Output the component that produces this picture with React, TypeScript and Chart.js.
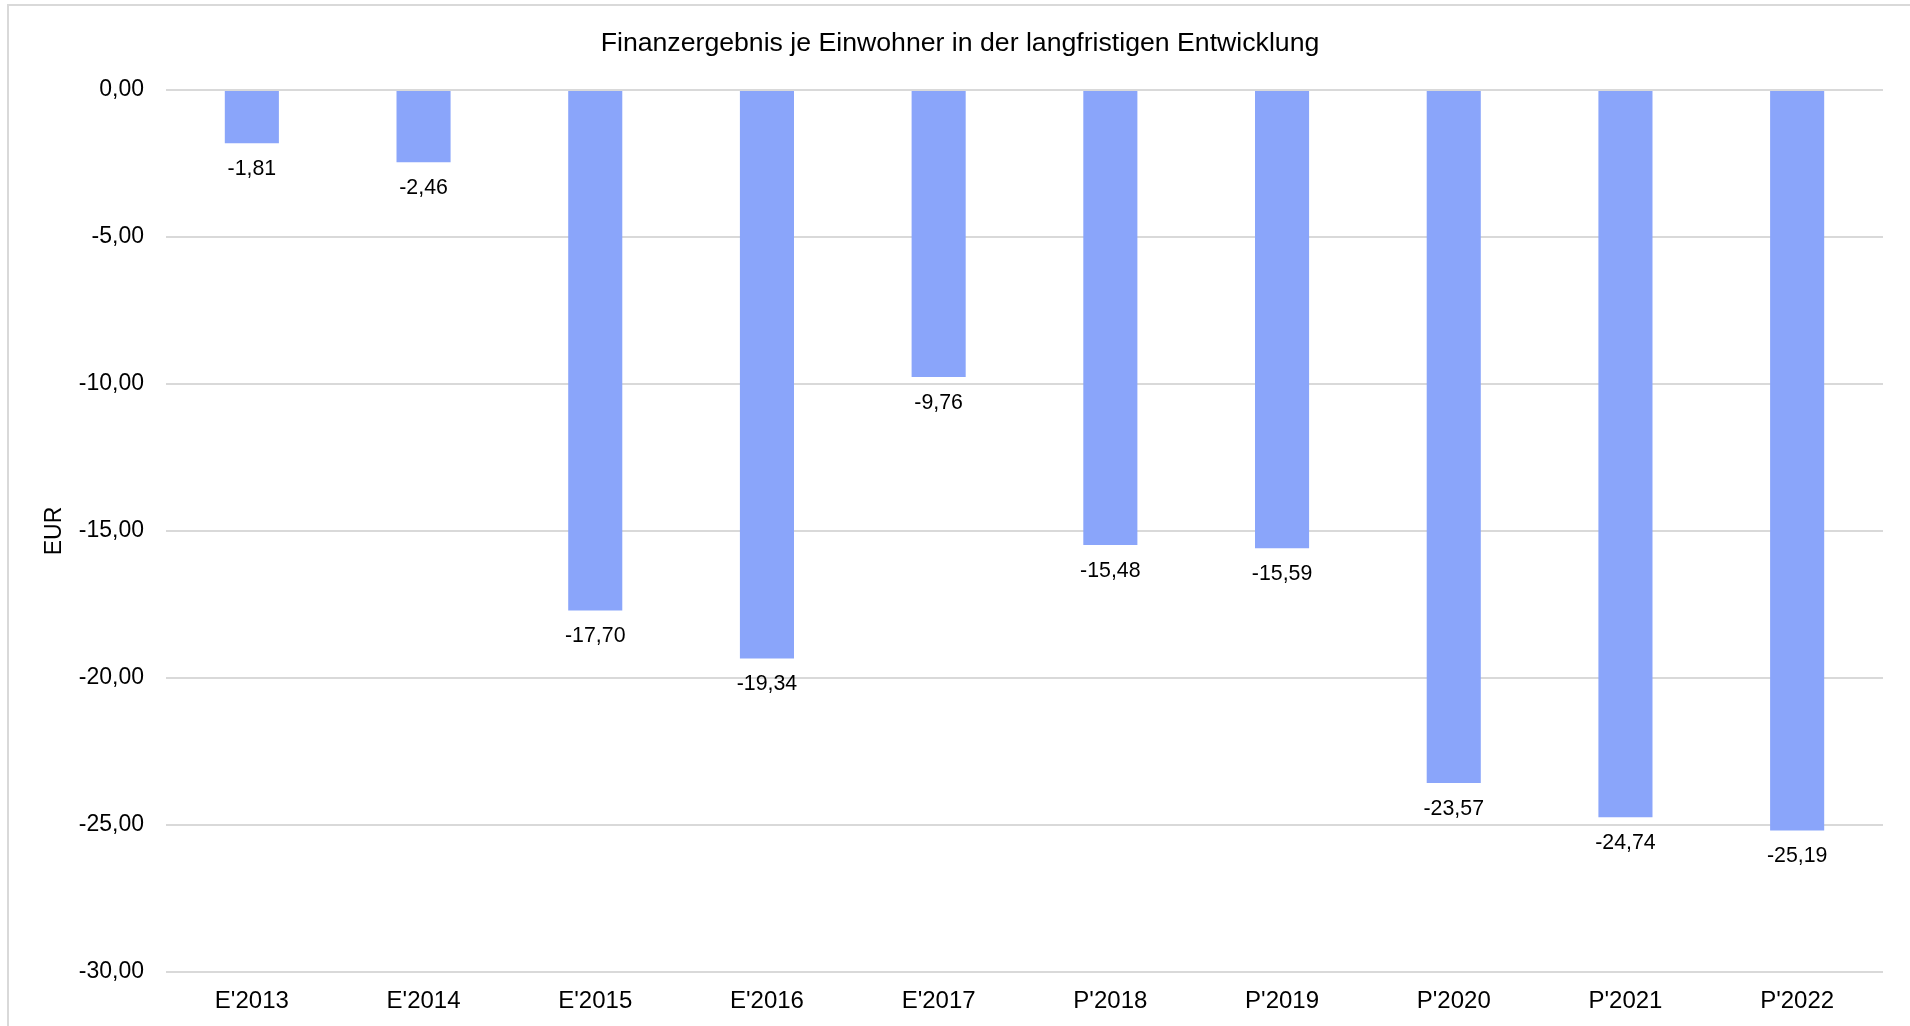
import React, { useEffect, useRef } from "react";
import { Chart, registerables } from "chart.js";

Chart.register(...registerables);

const categories = ["E'2013", "E'2014", "E'2015", "E'2016", "E'2017", "P'2018", "P'2019", "P'2020", "P'2021", "P'2022"];
const values = [-1.81, -2.46, -17.7, -19.34, -9.76, -15.48, -15.59, -23.57, -24.74, -25.19];
const chartTitle = "Finanzergebnis je Einwohner in der langfristigen Entwicklung";
const yAxisTitle = "EUR";
const yMin = -30;
const yMax = 0;
const yStep = 5;

const FONT = "'Liberation Sans', Arial, Helvetica, sans-serif";
const fmt = (v: number) => (Math.abs(v) < 1e-9 ? "0,00" : v.toFixed(2).replace(".", ","));

const dataLabelPlugin = {
  id: "dataLabels",
  afterDatasetsDraw(chart: any) {
    const ctx = chart.ctx;
    const meta = chart.getDatasetMeta(0);
    ctx.save();
    ctx.font = `21.33px ${FONT}`;
    ctx.fillStyle = "#000";
    ctx.textAlign = "center";
    ctx.textBaseline = "middle";
    meta.data.forEach((bar: any, i: number) => {
      const v = chart.data.datasets[0].data[i] as number;
      ctx.fillText(fmt(v), bar.x, bar.y + 26);
    });
    ctx.restore();
  },
};

const titlePlugin = {
  id: "centerTitle",
  afterDraw(chart: any) {
    const ctx = chart.ctx;
    ctx.save();
    ctx.font = `26.67px ${FONT}`;
    ctx.fillStyle = "#000";
    ctx.textAlign = "center";
    ctx.textBaseline = "middle";
    ctx.fillText(chartTitle, chart.width / 2 + 5, 44);
    ctx.restore();
  },
};

export default function App() {
  const ref = useRef<HTMLCanvasElement | null>(null);
  useEffect(() => {
    if (!ref.current) return;
    const chart = new Chart(ref.current, {
      type: "bar",
      data: {
        labels: categories,
        datasets: [
          {
            data: values,
            backgroundColor: "#8AA5FA",
            borderWidth: 0,
            categoryPercentage: 1,
            barPercentage: 0.315,
          },
        ],
      },
      options: {
        responsive: false,
        animation: false,
        devicePixelRatio: 1,
        layout: { padding: { left: 0, right: 27, top: 90, bottom: 0 } },
        plugins: {
          legend: { display: false },
          tooltip: { enabled: false },
          title: { display: false },
        },
        scales: {
          x: {
            grid: { display: false, drawTicks: false },
            border: { display: false },
            ticks: {
              color: "#000",
              font: { family: FONT, size: 24 },
              padding: 15,
              maxRotation: 0,
              autoSkip: false,
            },
            afterFit: (scale: any) => {
              scale.height = 54;
            },
          },
          y: {
            min: yMin,
            max: yMax,
            grid: { color: "#d9d9d9", lineWidth: 2, drawTicks: false },
            border: { display: false },
            ticks: {
              stepSize: yStep,
              color: "#000",
              font: { family: FONT, size: 23 },
              padding: 22,
              callback: (v: any) => fmt(Number(v)),
            },
            title: {
              display: true,
              text: yAxisTitle,
              color: "#000",
              font: { family: FONT, size: 23 },
              padding: { top: 40.7, bottom: 0 },
            },
            afterFit: (scale: any) => {
              scale.width = 166;
            },
          },
        },
      },
      plugins: [dataLabelPlugin, titlePlugin],
    });
    return () => chart.destroy();
  }, []);

  return (
    <div style={{ position: "absolute", left: 0, top: 0, width: 1910, height: 1026, background: "#fff", overflow: "hidden" }}>
      <div
        style={{
          position: "absolute",
          left: 7,
          top: 4,
          width: 1920,
          height: 1040,
          borderLeft: "2px solid #d9d9d9",
          borderTop: "2px solid #d9d9d9",
        }}
      />
      <canvas ref={ref} width={1910} height={1026} style={{ position: "absolute", left: 0, top: 0, display: "block" }} />
    </div>
  );
}
